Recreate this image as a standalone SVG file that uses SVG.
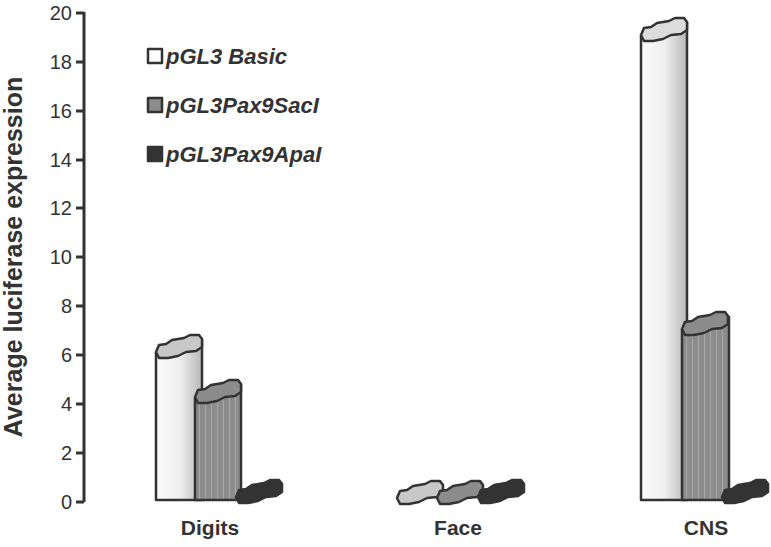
<svg xmlns="http://www.w3.org/2000/svg" width="771" height="547" viewBox="0 0 771 547">
<defs>
<linearGradient id="gw" x1="0" x2="1"><stop offset="0" stop-color="#fafafa"/><stop offset="0.5" stop-color="#f0f0f0"/><stop offset="1" stop-color="#b8b8b8"/></linearGradient>
<pattern id="gs" width="6" height="10" patternUnits="userSpaceOnUse"><rect width="6" height="10" fill="#8c8c8c"/><rect x="4" width="1" height="10" fill="#a8a8a8"/></pattern>
<path id="cap" d="M0,9 L3,2 L10,1 L16,-3 L28,-5 L34,-8 L43,-8 L46,-4 L46,4 L40,8 L30,9 L22,13 L12,15 L3,15 Z"/>
</defs>
<style>
.ax{stroke:#333;stroke-width:3;fill:none}
.tk{font-family:"Liberation Sans",Arial,sans-serif;font-size:20px;fill:#333;text-anchor:end}
.cat{font-family:"Liberation Sans",Arial,sans-serif;font-size:21px;font-weight:bold;fill:#333;text-anchor:middle}
.lg{font-family:"Liberation Sans",Arial,sans-serif;font-size:22px;font-weight:bold;font-style:italic;fill:#333}
.ol{stroke:#333;stroke-width:2.5;stroke-linejoin:round}
</style>
<g id="axis">
<path class="ax" d="M84,12 V502 M76,13 H84 M76,62 H84 M76,111 H84 M76,160 H84 M76,208 H84 M76,257 H84 M76,306 H84 M76,355 H84 M76,404 H84 M76,453 H84 M76,502 H84"/>
<text class="tk" x="72" y="20">20</text><text class="tk" x="72" y="69">18</text><text class="tk" x="72" y="118">16</text><text class="tk" x="72" y="167">14</text><text class="tk" x="72" y="215">12</text><text class="tk" x="72" y="264">10</text><text class="tk" x="72" y="313">8</text><text class="tk" x="72" y="362">6</text><text class="tk" x="72" y="411">4</text><text class="tk" x="72" y="460">2</text><text class="tk" x="72" y="509">0</text>
<text transform="translate(22,257) rotate(-90)" style="font-family:'Liberation Sans',Arial,sans-serif;font-size:25px;font-weight:bold;fill:#333" text-anchor="middle">Average luciferase expression</text>
<text class="cat" x="210" y="535">Digits</text><text class="cat" x="458" y="535">Face</text><text class="cat" x="706" y="535">CNS</text>
</g>
<g id="legend">
<rect x="148" y="49" width="14" height="14" fill="#fff" class="ol" stroke-width="2"/><text class="lg" x="166" y="64">pGL3 Basic</text>
<rect x="148" y="98" width="14" height="14" fill="#8c8c8c" class="ol" stroke-width="2"/><text class="lg" x="166" y="113">pGL3Pax9SacI</text>
<rect x="148" y="147" width="14" height="14" fill="#333" class="ol" stroke-width="2"/><text class="lg" x="166" y="162">pGL3Pax9ApaI</text>
</g>
<g id="digits-basic" transform="translate(156,343)"><path class="ol" fill="url(#gw)" d="M0,9 V157 H46 V-4"/><use href="#cap" class="ol" fill="#c8c8c8"/></g>
<g id="digits-sacI" transform="translate(195,388)"><path class="ol" fill="url(#gs)" d="M0,9 V112 H46 V-4"/><use href="#cap" class="ol" fill="#8c8c8c"/></g>
<g id="digits-apaI" transform="translate(236,488)"><use href="#cap" class="ol" fill="#333"/></g>
<g id="face-basic" transform="translate(397,489)"><use href="#cap" class="ol" fill="#c8c8c8"/></g>
<g id="face-sacI" transform="translate(437,489)"><use href="#cap" class="ol" fill="#8c8c8c"/></g>
<g id="face-apaI" transform="translate(478,488)"><use href="#cap" class="ol" fill="#333"/></g>
<g id="cns-basic" transform="translate(641,26)"><path class="ol" fill="url(#gw)" d="M0,9 V474 H46 V-4"/><use href="#cap" class="ol" fill="#dcdcdc"/></g>
<g id="cns-sacI" transform="translate(682,320)"><path class="ol" fill="url(#gs)" d="M0,9 V180 H47 V-4"/><use href="#cap" class="ol" fill="#8c8c8c"/></g>
<g id="cns-apaI" transform="translate(722,488)"><use href="#cap" class="ol" fill="#333"/></g>
</svg>
